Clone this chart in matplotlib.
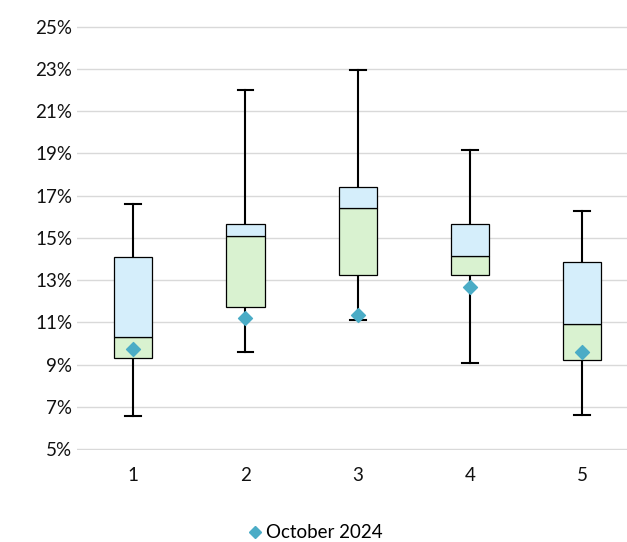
import matplotlib.pyplot as plt
from matplotlib.lines import Line2D
from matplotlib.ticker import FuncFormatter

plt.rcParams['font.family'] = ['Lato', 'DejaVu Sans']

# --------------------------------------------------
# Data (percent)
# --------------------------------------------------
categories = [1, 2, 3, 4, 5]
mins = [6.56, 9.62, 11.13, 9.06, 6.6]
q1 = [9.34, 11.75, 13.25, 13.25, 9.2]
medians = [10.33, 15.1, 16.42, 14.15, 10.94]
q3 = [14.1, 15.66, 17.4, 15.66, 13.87]
maxs = [16.6, 21.98, 22.97, 19.15, 16.27]
october_2024 = [9.72, 11.23, 11.37, 12.69, 9.58]

fig = plt.figure(figsize=(6.27, 5.42), dpi=100)
ax = fig.add_axes([0.123, 0.170, 0.895, 0.782])

box_w = 0.34
cap_w = 0.14

for x, lo, a, m, b, hi in zip(categories, mins, q1, medians, q3, maxs):
    # whiskers
    ax.plot([x, x], [lo, a], color='black', lw=1.5, zorder=2)
    ax.plot([x, x], [b, hi], color='black', lw=1.5, zorder=2)
    ax.plot([x - cap_w / 2, x + cap_w / 2], [lo, lo], color='black', lw=1.5, zorder=2)
    ax.plot([x - cap_w / 2, x + cap_w / 2], [hi, hi], color='black', lw=1.5, zorder=2)
    # boxes
    ax.bar(x, m - a, bottom=a, width=box_w, color='#D9F2D0', edgecolor='black', lw=0.9, zorder=3)
    ax.bar(x, b - m, bottom=m, width=box_w, color='#D5EEFB', edgecolor='black', lw=0.9, zorder=3)

ax.scatter(categories, october_2024, marker='D', s=50, color='#4BACC6', zorder=4)

ax.set_xlim(0.5, 5.5)
ax.set_ylim(4.97, 25.03)
ax.set_yticks(range(5, 26, 2))
ax.yaxis.set_major_formatter(FuncFormatter(lambda v, p: f"{v:.0f}%"))
ax.set_xticks(categories)
ax.grid(axis='y', color='#D9D9D9', lw=1, zorder=0)
for s in ax.spines.values():
    s.set_visible(False)
ax.tick_params(length=0, labelsize=13.5, colors='#111111')
ax.tick_params(axis='x', pad=12)

handle = Line2D([], [], marker='D', color='#4BACC6', ls='none', markersize=6)
fig.legend([handle], ['October 2024'], loc='center', bbox_to_anchor=(0.5, 0.017),
           frameon=False, fontsize=13.5, handletextpad=0.0, handlelength=1.2)

fig.savefig('out.png', dpi=100)
